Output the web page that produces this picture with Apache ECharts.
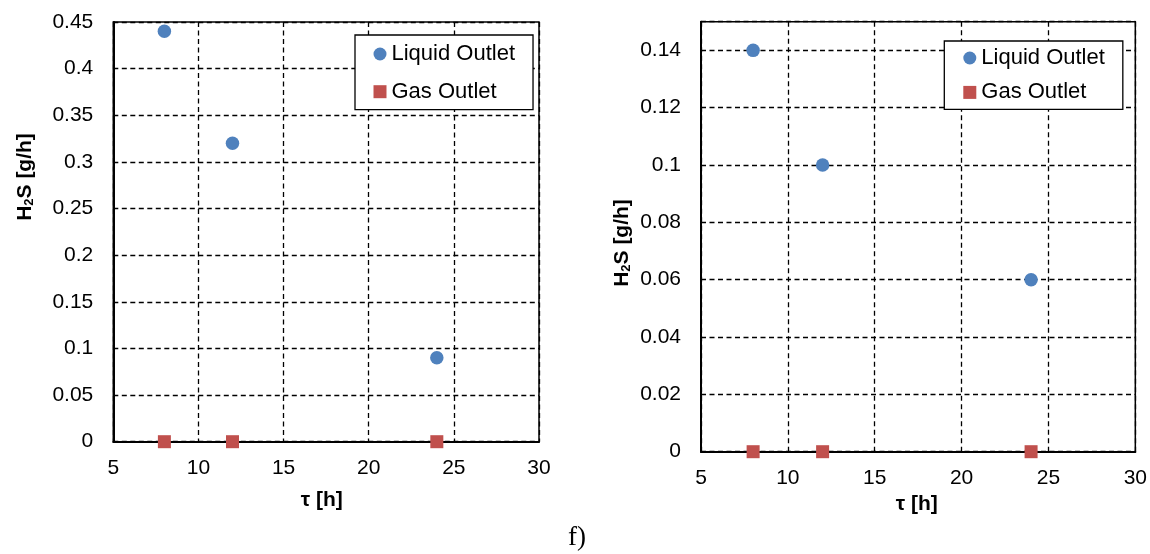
<!DOCTYPE html>
<html>
<head>
<meta charset="utf-8">
<script src="https://cdn.jsdelivr.net/npm/echarts@6/dist/echarts.min.js"></script>
<style>
html,body{margin:0;padding:0;background:#fff;}
#chart{width:1150px;height:554px;}
</style>
</head>
<body>
<div id="chart"></div>
<script>
// ---- data ----
const tau = [8, 12, 24];
const liquidLeft = [0.44, 0.32, 0.09];
const gasLeft = [0, 0, 0];
const liquidRight = [0.14, 0.10, 0.06];
const gasRight = [0, 0, 0];
const xRange = [5, 30, 5];          // min, max, step
const yLeftRange = [0, 0.45, 0.05];
const yRightRange = [0, 0.15, 0.02];
const seriesNames = ['Liquid Outlet', 'Gas Outlet'];
const xTitle = 'τ [h]';
const panelLabel = 'f)';

const FONT = '"Liberation Sans", Arial, sans-serif';
const BLUE = '#4F81BD';
const RED = '#C0504D';

const chart = echarts.init(document.getElementById('chart'), null, {renderer: 'canvas'});

function pts(xs, ys) { return xs.map((x, i) => [x, ys[i]]); }

function xAxisCfg(gi) {
  return {
    gridIndex: gi, type: 'value', min: xRange[0], max: xRange[1], interval: xRange[2],
    axisLine: {show: true, onZero: false, lineStyle: {color: '#000', width: 2}},
    axisTick: {show: false},
    axisLabel: {color: '#000', fontSize: 21, fontFamily: FONT, margin: 16},
    splitLine: {show: true, lineStyle: {color: '#000', type: [5, 3.5], width: 1.3}}
  };
}
function yAxisCfg(gi, r) {
  return {
    gridIndex: gi, type: 'value', min: r[0], max: r[1], interval: r[2],
    axisLine: {show: true, onZero: false, lineStyle: {color: '#000', width: 2}},
    axisTick: {show: false},
    axisLabel: {
      color: '#000', fontSize: 21, fontFamily: FONT, margin: 20,
      formatter: function (v) {
        const k = Math.round((v - r[0]) / r[2] * 1e6) / 1e6;
        return Math.abs(k - Math.round(k)) < 1e-6 ? String(v) : '';
      }
    },
    splitLine: {show: true, lineStyle: {color: '#000', type: [5, 3.5], width: 1.3}}
  };
}
function legendCfg(left, top, padding, gap) {
  return {
    orient: 'vertical', left: left, top: top, padding: padding, itemGap: gap,
    itemWidth: 13, itemHeight: 13,
    borderColor: '#000', borderWidth: 1.3, backgroundColor: '#fff',
    textStyle: {color: '#000', fontSize: 22, fontFamily: FONT},
    data: [{name: seriesNames[0], icon: 'circle'}, {name: seriesNames[1], icon: 'rect'}],
    selectedMode: false
  };
}
function yTitle(cx, cy) {
  return {
    type: 'text', x: cx, y: cy, rotation: Math.PI / 2,
    style: {
      text: '{a|H}{s|2}{a|S [g/h]}',
      align: 'center', verticalAlign: 'middle',
      rich: {
        a: {fontSize: 21, fontWeight: 'bold', fontFamily: FONT, fill: '#000', lineHeight: 24, verticalAlign: 'bottom'},
        s: {fontSize: 13, fontWeight: 'bold', fontFamily: FONT, fill: '#000', lineHeight: 8, verticalAlign: 'bottom'}
      }
    }
  };
}
function xTitleEl(cx, cy) {
  return {
    type: 'text', x: cx, y: cy,
    style: {text: xTitle, align: 'center', verticalAlign: 'middle',
      font: 'bold 21px ' + FONT, fill: '#000'}
  };
}
function scatter(name, gi, sym, size, color, ys) {
  return {
    name: name, type: 'scatter', xAxisIndex: gi, yAxisIndex: gi, symbol: sym, symbolSize: size,
    itemStyle: {color: color, opacity: 1}, emphasis: {disabled: true},
    data: pts(tau, ys), clip: false, z: 5
  };
}

const option = {
  animation: false,
  backgroundColor: '#fff',
  grid: [
    {left: 113.3, top: 22, width: 425.7, height: 419.7, show: true, borderColor: '#000', borderWidth: 1.5, backgroundColor: 'transparent'},
    {left: 701, top: 21.7, width: 435, height: 430, show: true, borderColor: '#000', borderWidth: 1.5, backgroundColor: 'transparent'}
  ],
  xAxis: [xAxisCfg(0), xAxisCfg(1)],
  yAxis: [yAxisCfg(0, yLeftRange), yAxisCfg(1, yRightRange)],
  legend: [
    legendCfg(355, 35, [8, 18, 7, 18.5], 15.7),
    legendCfg(944.3, 41, [6, 18, 6, 19], 12.4)
  ],
  series: [
    scatter(seriesNames[0], 0, 'circle', 13.5, BLUE, liquidLeft),
    scatter(seriesNames[1], 0, 'rect', 13, RED, gasLeft),
    scatter(seriesNames[0], 1, 'circle', 13.5, BLUE, liquidRight),
    scatter(seriesNames[1], 1, 'rect', 13, RED, gasRight)
  ],
  graphic: [
    yTitle(24, 177),
    yTitle(621, 243),
    xTitleEl(321.7, 500),
    xTitleEl(916.7, 504.3),
    {type: 'text', x: 577, y: 538,
      style: {text: panelLabel, align: 'center', verticalAlign: 'middle',
        font: '27px "Liberation Serif", "Times New Roman", serif', fill: '#000'}}
  ]
};
chart.setOption(option);
</script>
</body>
</html>
